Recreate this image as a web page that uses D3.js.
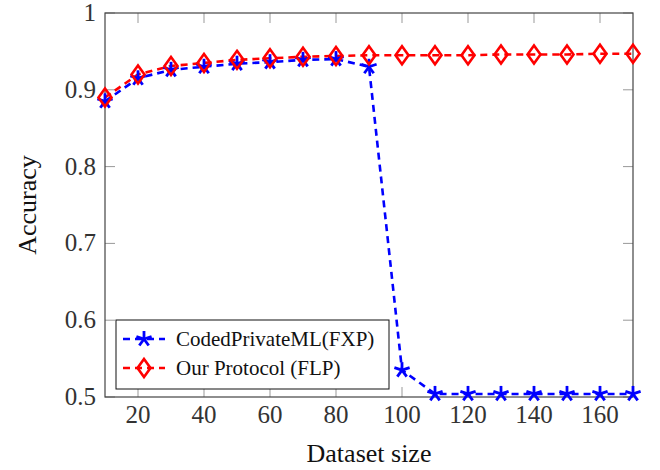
<!DOCTYPE html>
<html><head><meta charset="utf-8">
<script src="https://cdn.jsdelivr.net/npm/d3@7/dist/d3.min.js"></script>
<style>body{margin:0;background:#fff}</style>
</head><body><svg id="c" width="660" height="470"></svg>
<script>
const sizes = [10,20,30,40,50,60,70,80,90,100,110,120,130,140,150,160,170];
const fxp = [0.885,0.915,0.926,0.930,0.934,0.936,0.939,0.940,0.930,0.535,0.504,0.504,0.504,0.504,0.504,0.504,0.504];
const flp = [0.890,0.920,0.931,0.935,0.939,0.941,0.943,0.944,0.945,0.945,0.945,0.945,0.946,0.946,0.946,0.947,0.947];
const xTicks = [20,40,60,80,100,120,140,160];
const yTicks = [0.5,0.6,0.7,0.8,0.9,1];
const seriesNames = ["CodedPrivateML(FXP)","Our Protocol (FLP)"];

const svg = d3.select("#c");
const L=105,R=633,T=13,B=397;
const x = d3.scaleLinear().domain([10,170]).range([L,R]);
const y = d3.scaleLinear().domain([0.5,1]).range([B,T]);
const font = "'Liberation Serif','Times New Roman',serif";

// ticks inward
const tk = svg.append("g").attr("stroke","#999").attr("stroke-width",1);
xTicks.forEach(v=>{
  tk.append("line").attr("x1",x(v)).attr("x2",x(v)).attr("y1",B).attr("y2",B-10);
  tk.append("line").attr("x1",x(v)).attr("x2",x(v)).attr("y1",T).attr("y2",T+10);
});
yTicks.forEach(v=>{
  tk.append("line").attr("x1",L).attr("x2",L+10).attr("y1",y(v)).attr("y2",y(v));
  tk.append("line").attr("x1",R).attr("x2",R-10).attr("y1",y(v)).attr("y2",y(v));
});
svg.append("rect").attr("x",L).attr("y",T).attr("width",R-L).attr("height",B-T)
  .attr("fill","none").attr("stroke","#444").attr("stroke-width",1.2);

// tick labels
svg.append("g").selectAll("text").data(xTicks).join("text")
  .attr("x",d=>x(d)).attr("y",B+26).attr("text-anchor","middle")
  .attr("font-family",font).attr("font-size",25).attr("fill","#333").text(d=>d);
svg.append("g").selectAll("text").data(yTicks).join("text")
  .attr("x",L-9).attr("y",d=>y(d)+8).attr("text-anchor","end")
  .attr("font-family",font).attr("font-size",25).attr("fill","#333").text(d=>d===1?"1":d3.format(".1f")(d));
svg.append("text").attr("x",(L+R)/2).attr("y",462).attr("text-anchor","middle")
  .attr("font-family",font).attr("font-size",26).attr("fill","#111").text("Dataset size");
svg.append("text").attr("transform",`translate(36,${(T+B)/2}) rotate(-90)`).attr("text-anchor","middle")
  .attr("font-family",font).attr("font-size",26).attr("fill","#111").text("Accuracy");

function star(g,cx,cy,r,color){
  for(let i=0;i<5;i++){
    const a=-Math.PI/2+i*2*Math.PI/5;
    g.append("line").attr("x1",cx).attr("y1",cy).attr("x2",cx+r*Math.cos(a)).attr("y2",cy+r*Math.sin(a))
      .attr("stroke",color).attr("stroke-width",2.8).attr("stroke-linecap","butt");
  }
}
function diamond(g,cx,cy,color){
  g.append("path").attr("d",`M${cx},${cy-9}L${cx+6.5},${cy}L${cx},${cy+9}L${cx-6.5},${cy}Z`)
    .attr("fill","none").attr("stroke",color).attr("stroke-width",2.6);
}
const line = d3.line().x((d,i)=>x(sizes[i])).y(d=>y(d));
const clip = svg.append("g");
clip.append("path").datum(fxp).attr("d",line).attr("fill","none").attr("stroke","#0000ff")
  .attr("stroke-width",2.6).attr("stroke-dasharray","7,5");
const gb = svg.append("g");
fxp.forEach((v,i)=>star(gb,x(sizes[i]),y(v),8,"#0000ff"));
clip.append("path").datum(flp).attr("d",line).attr("fill","none").attr("stroke","#ff0000")
  .attr("stroke-width",2.6).attr("stroke-dasharray","7,5");
const gr = svg.append("g");
flp.forEach((v,i)=>diamond(gr,x(sizes[i]),y(v),"#ff0000"));

// legend
const lg = svg.append("g");
lg.append("rect").attr("x",116).attr("y",320).attr("width",273).attr("height",69)
  .attr("fill","#fff").attr("stroke","#111").attr("stroke-width",1);
const colors=["#0000ff","#ff0000"];
seriesNames.forEach((n,i)=>{
  const cy = 339+i*29;
  lg.append("line").attr("x1",123).attr("x2",165).attr("y1",cy).attr("y2",cy)
    .attr("stroke",colors[i]).attr("stroke-width",2.6).attr("stroke-dasharray","7,5").attr("stroke-dashoffset",0);
  if(i===0) star(lg,144,cy,8,colors[i]); else diamond(lg,144,cy,colors[i]);
  lg.append("text").attr("x",176).attr("y",cy+7).attr("font-family",font).attr("font-size",21)
    .attr("fill","#111").text(n);
});
</script></body></html>
